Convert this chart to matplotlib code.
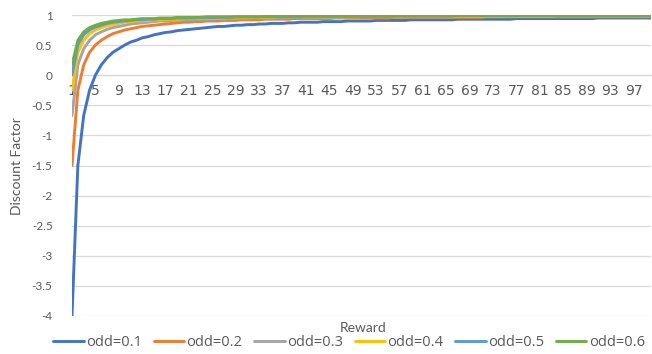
import matplotlib
matplotlib.use("Agg")
import matplotlib.pyplot as plt

rewards = list(range(1, 101))

odd_01 = [-4.00, -1.50, -0.67, -0.25, 0.00, 0.17, 0.29, 0.38, 0.44, 0.50,
          0.55, 0.58, 0.62, 0.64, 0.67, 0.69, 0.71, 0.72, 0.74, 0.75,
          0.76, 0.77, 0.78, 0.79, 0.80, 0.81, 0.81, 0.82, 0.83, 0.83,
          0.84, 0.84, 0.85, 0.85, 0.86, 0.86, 0.86, 0.87, 0.87, 0.88,
          0.88, 0.88, 0.88, 0.89, 0.89, 0.89, 0.89, 0.90, 0.90, 0.90,
          0.90, 0.90, 0.91, 0.91, 0.91, 0.91, 0.91, 0.91, 0.92, 0.92,
          0.92, 0.92, 0.92, 0.92, 0.92, 0.92, 0.93, 0.93, 0.93, 0.93,
          0.93, 0.93, 0.93, 0.93, 0.93, 0.93, 0.94, 0.94, 0.94, 0.94,
          0.94, 0.94, 0.94, 0.94, 0.94, 0.94, 0.94, 0.94, 0.94, 0.94,
          0.95, 0.95, 0.95, 0.95, 0.95, 0.95, 0.95, 0.95, 0.95, 0.95]

odd_02 = [-1.50, -0.25, 0.17, 0.38, 0.50, 0.58, 0.64, 0.69, 0.72, 0.75,
          0.77, 0.79, 0.81, 0.82, 0.83, 0.84, 0.85, 0.86, 0.87, 0.88,
          0.88, 0.89, 0.89, 0.90, 0.90, 0.90, 0.91, 0.91, 0.91, 0.92,
          0.92, 0.92, 0.92, 0.93, 0.93, 0.93, 0.93, 0.93, 0.94, 0.94,
          0.94, 0.94, 0.94, 0.94, 0.94, 0.95, 0.95, 0.95, 0.95, 0.95,
          0.95, 0.95, 0.95, 0.95, 0.95, 0.96, 0.96, 0.96, 0.96, 0.96,
          0.96, 0.96, 0.96, 0.96, 0.96, 0.96, 0.96, 0.96, 0.96, 0.96,
          0.96, 0.97, 0.97, 0.97, 0.97, 0.97, 0.97, 0.97, 0.97, 0.97,
          0.97, 0.97, 0.97, 0.97, 0.97, 0.97, 0.97, 0.97, 0.97, 0.97,
          0.97, 0.97, 0.97, 0.97, 0.97, 0.97, 0.97, 0.97, 0.97, 0.97]

odd_03 = [-0.67, 0.17, 0.44, 0.58, 0.67, 0.72, 0.76, 0.79, 0.81, 0.83,
          0.85, 0.86, 0.87, 0.88, 0.89, 0.90, 0.90, 0.91, 0.91, 0.92,
          0.92, 0.92, 0.93, 0.93, 0.93, 0.94, 0.94, 0.94, 0.94, 0.94,
          0.95, 0.95, 0.95, 0.95, 0.95, 0.95, 0.95, 0.96, 0.96, 0.96,
          0.96, 0.96, 0.96, 0.96, 0.96, 0.96, 0.96, 0.97, 0.97, 0.97,
          0.97, 0.97, 0.97, 0.97, 0.97, 0.97, 0.97, 0.97, 0.97, 0.97,
          0.97, 0.97, 0.97, 0.97, 0.97, 0.97, 0.98, 0.98, 0.98, 0.98,
          0.98, 0.98, 0.98, 0.98, 0.98, 0.98, 0.98, 0.98, 0.98, 0.98,
          0.98, 0.98, 0.98, 0.98, 0.98, 0.98, 0.98, 0.98, 0.98, 0.98,
          0.98, 0.98, 0.98, 0.98, 0.98, 0.98, 0.98, 0.98, 0.98, 0.98]

odd_04 = [-0.25, 0.38, 0.58, 0.69, 0.75, 0.79, 0.82, 0.84, 0.86, 0.88,
          0.89, 0.90, 0.90, 0.91, 0.92, 0.92, 0.93, 0.93, 0.93, 0.94,
          0.94, 0.94, 0.95, 0.95, 0.95, 0.95, 0.95, 0.96, 0.96, 0.96,
          0.96, 0.96, 0.96, 0.96, 0.96, 0.97, 0.97, 0.97, 0.97, 0.97,
          0.97, 0.97, 0.97, 0.97, 0.97, 0.97, 0.97, 0.97, 0.97, 0.97,
          0.98, 0.98, 0.98, 0.98, 0.98, 0.98, 0.98, 0.98, 0.98, 0.98,
          0.98, 0.98, 0.98, 0.98, 0.98, 0.98, 0.98, 0.98, 0.98, 0.98,
          0.98, 0.98, 0.98, 0.98, 0.98, 0.98, 0.98, 0.98, 0.98, 0.98,
          0.98, 0.98, 0.98, 0.99, 0.99, 0.99, 0.99, 0.99, 0.99, 0.99,
          0.99, 0.99, 0.99, 0.99, 0.99, 0.99, 0.99, 0.99, 0.99, 0.99]

odd_05 = [0.00, 0.50, 0.67, 0.75, 0.80, 0.83, 0.86, 0.88, 0.89, 0.90,
          0.91, 0.92, 0.92, 0.93, 0.93, 0.94, 0.94, 0.94, 0.95, 0.95,
          0.95, 0.95, 0.96, 0.96, 0.96, 0.96, 0.96, 0.96, 0.97, 0.97,
          0.97, 0.97, 0.97, 0.97, 0.97, 0.97, 0.97, 0.97, 0.97, 0.97,
          0.98, 0.98, 0.98, 0.98, 0.98, 0.98, 0.98, 0.98, 0.98, 0.98,
          0.98, 0.98, 0.98, 0.98, 0.98, 0.98, 0.98, 0.98, 0.98, 0.98,
          0.98, 0.98, 0.98, 0.98, 0.98, 0.98, 0.99, 0.99, 0.99, 0.99,
          0.99, 0.99, 0.99, 0.99, 0.99, 0.99, 0.99, 0.99, 0.99, 0.99,
          0.99, 0.99, 0.99, 0.99, 0.99, 0.99, 0.99, 0.99, 0.99, 0.99,
          0.99, 0.99, 0.99, 0.99, 0.99, 0.99, 0.99, 0.99, 0.99, 0.99]

odd_06 = [0.17, 0.58, 0.72, 0.79, 0.83, 0.86, 0.88, 0.90, 0.91, 0.92,
          0.92, 0.93, 0.94, 0.94, 0.94, 0.95, 0.95, 0.95, 0.96, 0.96,
          0.96, 0.96, 0.96, 0.97, 0.97, 0.97, 0.97, 0.97, 0.97, 0.97,
          0.97, 0.97, 0.97, 0.98, 0.98, 0.98, 0.98, 0.98, 0.98, 0.98,
          0.98, 0.98, 0.98, 0.98, 0.98, 0.98, 0.98, 0.98, 0.98, 0.98,
          0.98, 0.98, 0.98, 0.98, 0.98, 0.99, 0.99, 0.99, 0.99, 0.99,
          0.99, 0.99, 0.99, 0.99, 0.99, 0.99, 0.99, 0.99, 0.99, 0.99,
          0.99, 0.99, 0.99, 0.99, 0.99, 0.99, 0.99, 0.99, 0.99, 0.99,
          0.99, 0.99, 0.99, 0.99, 0.99, 0.99, 0.99, 0.99, 0.99, 0.99,
          0.99, 0.99, 0.99, 0.99, 0.99, 0.99, 0.99, 0.99, 0.99, 0.99]

series_labels = ["odd=0.1", "odd=0.2", "odd=0.3", "odd=0.4", "odd=0.5", "odd=0.6"]
series_values = [odd_01, odd_02, odd_03, odd_04, odd_05, odd_06]
colors = ["#4472C4", "#ED7D31", "#A5A5A5", "#FFC000", "#5B9BD5", "#70AD47"]

x_ticks = list(range(1, 101, 4))
x_tick_labels = [str(v) for v in x_ticks]
y_ticks = [-4, -3.5, -3, -2.5, -2, -1.5, -1, -0.5, 0, 0.5, 1]
y_tick_labels = ["-4", "-3.5", "-3", "-2.5", "-2", "-1.5", "-1", "-0.5", "0", "0.5", "1"]

W, H = 652, 354
fig = plt.figure(figsize=(W / 100, H / 100), dpi=100)
left_px, right_px, top_px, bot_px = 72, 651, 15, 316
ax = fig.add_axes([left_px / W, (H - bot_px) / H, (right_px - left_px) / W, (bot_px - top_px) / H])

grid_c = "#D9D9D9"
text_c = "#595959"
for lab, vals, c in zip(series_labels, series_values, colors):
    ax.plot(rewards, vals, color=c, lw=2.1, label=lab, solid_capstyle="round", zorder=3)

ax.set_xlim(1, 100)
ax.set_ylim(-4, 1)
ax.set_yticks(y_ticks)
ax.set_yticklabels(y_tick_labels, fontsize=8.5, color=text_c, family="Lato")
ax.yaxis.grid(True, color=grid_c, lw=0.9, zorder=0)
ax.set_axisbelow(True)
ax.tick_params(axis="y", length=0, pad=14, labelcolor=text_c)

ax.set_xticks(x_ticks)
ax.set_xticklabels(x_tick_labels, rotation=90, fontsize=8.5, color=text_c, family="Lato")
ax.tick_params(axis="x", length=0, pad=6, labelcolor=text_c)

for s in ["left", "right", "top"]:
    ax.spines[s].set_visible(False)
ax.spines["bottom"].set_position(("data", 0))
ax.spines["bottom"].set_color(grid_c)
ax.spines["bottom"].set_linewidth(0.9)

fig.text(17 / W, 1 - 166 / H, "Discount Factor", rotation=90, ha="center", va="center",
         fontsize=10, color=text_c, family="Lato")
fig.text(363 / W, 1 - 328 / H, "Reward", ha="center", va="center",
         fontsize=10, color=text_c, family="Lato")

handles, labels = ax.get_legend_handles_labels()
leg = fig.legend(handles, labels, loc="center", bbox_to_anchor=(349 / W, 1 - 343 / H), ncol=6,
                 frameon=False, handlelength=2.1, handletextpad=0.15,
                 columnspacing=0.8, prop={"family": "Open Sans", "size": 10.5})
for t in leg.get_texts():
    t.set_color(text_c)

fig.savefig("out.png", dpi=100)
